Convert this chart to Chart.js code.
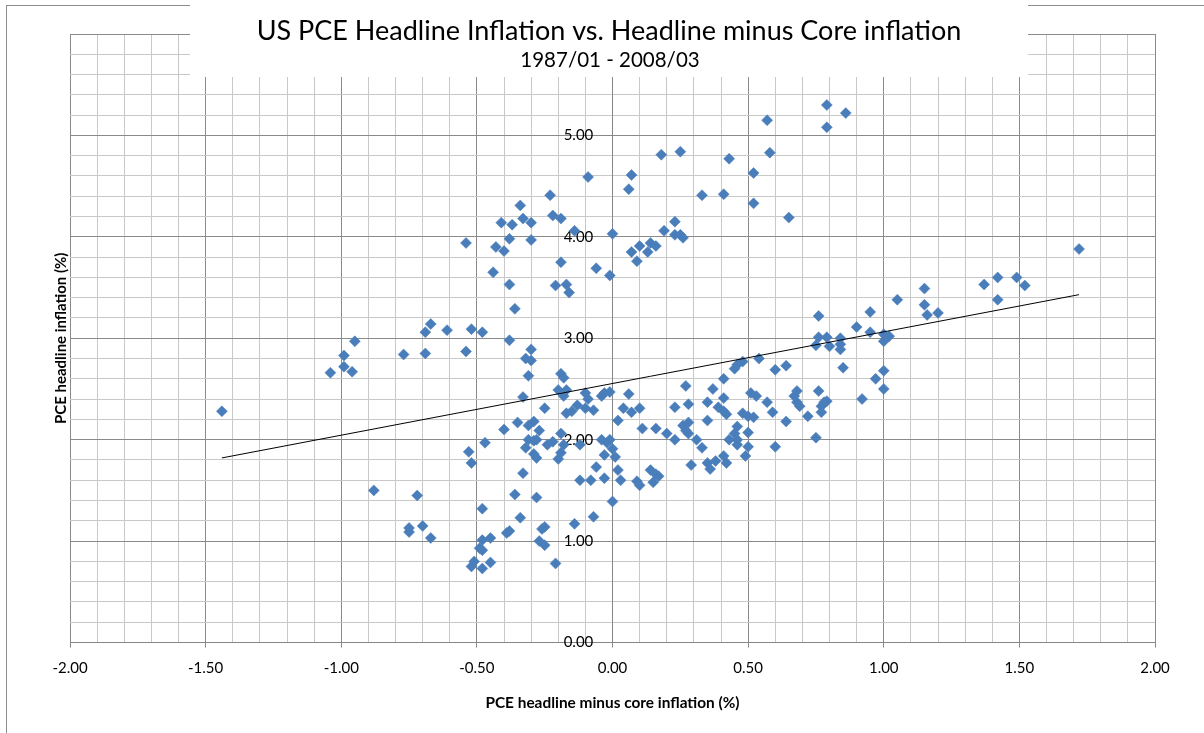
<!DOCTYPE html>
<html>
<head>
<meta charset="utf-8">
<title>US PCE Headline Inflation vs. Headline minus Core inflation</title>
<script src="https://cdn.jsdelivr.net/npm/chart.js@4.4.1/dist/chart.umd.min.js"></script>
<style>
  html, body { margin: 0; padding: 0; background: #fff; overflow: hidden; }
  #wrap { position: relative; width: 1204px; height: 733px; }
</style>
</head>
<body>
<div id="wrap"><canvas id="pceChart" width="1204" height="733"></canvas></div>
<script>
// monthly observations 1987/01 - 2008/03, read off the original chart
// x: PCE headline minus core inflation (%), y: PCE headline inflation (%)
var spread = [
  -1.44, -1.04, -0.99, -0.99, -0.96, -0.95, -0.88, -0.77, -0.75, -0.75, -0.72, -0.70, -0.69, -0.69, -0.67, -0.67, -0.61,
  -0.54, -0.52, -0.54, -0.48, -0.43, -0.44, -0.47, -0.53, -0.52, -0.48, -0.48, -0.45, -0.49, -0.48, -0.51, -0.52, -0.48, -0.45, -0.41, -0.40, -0.40,
  -0.37, -0.38, -0.34, -0.33, -0.30, -0.30, -0.38, -0.36, -0.38, -0.30, -0.32, -0.30, -0.31, -0.33, -0.35, -0.31, -0.29, -0.27, -0.25,
  -0.31, -0.29, -0.28, -0.32, -0.28, -0.29, -0.33, -0.36, -0.28, -0.34, -0.38, -0.39, -0.26, -0.25, -0.27, -0.25,
  -0.23, -0.22, -0.19, -0.14, -0.09, 0.00, -0.21, -0.17, -0.16, -0.19, -0.06, -0.01, -0.19, -0.18, -0.20, -0.18, -0.17,
  -0.10, -0.09, -0.04, -0.03, -0.01, -0.13, -0.10, -0.07, -0.17, -0.15, -0.19, -0.24, -0.22, -0.18, -0.19, -0.20, -0.12,
  -0.04, -0.01, -0.02, -0.03, -0.06, -0.03, -0.08, -0.12, -0.07, -0.14, -0.21,
  0.00, 0.01, 0.02, 0.03, 0.00, 0.02, 0.06, 0.04, 0.07, 0.10, 0.11, 0.16, 0.20, 0.23, 0.23, 0.27, 0.28, 0.26, 0.28, 0.27, 0.28,
  0.09, 0.10, 0.14, 0.16, 0.17, 0.15, 0.29, 0.06, 0.07, 0.18, 0.25, 0.23, 0.19, 0.23, 0.25, 0.26, 0.10, 0.07, 0.14, 0.16, 0.13, 0.09,
  0.33, 0.41, 0.43, 0.52, 0.52, 0.31, 0.33, 0.35, 0.37, 0.41, 0.41, 0.39, 0.41, 0.42, 0.35, 0.45, 0.46, 0.48, 0.54,
  0.51, 0.53, 0.48, 0.50, 0.52, 0.46, 0.45, 0.46, 0.46, 0.50, 0.50, 0.49, 0.43, 0.35, 0.36, 0.38, 0.41, 0.42,
  0.79, 0.86, 0.79, 0.57, 0.58, 0.65, 0.57, 0.59, 0.64, 0.60, 0.64, 0.68, 0.67, 0.68, 0.69, 0.72, 0.76, 0.77, 0.78, 0.79,
  0.77, 0.75, 0.60, 0.76, 0.76, 0.79, 0.84, 0.75, 0.80, 0.84, 0.84, 0.85, 0.90, 0.95, 0.95, 0.92, 0.97, 1.00, 1.00, 1.00,
  1.00, 1.02, 1.05, 1.15, 1.15, 1.16, 1.20, 1.37, 1.42, 1.42, 1.49, 1.52, 1.72
];
var headline = [
  2.28, 2.66, 2.83, 2.72, 2.67, 2.97, 1.50, 2.84, 1.13, 1.09, 1.45, 1.15, 3.06, 2.85, 3.14, 1.03, 3.08,
  3.94, 3.09, 2.87, 3.06, 3.90, 3.65, 1.97, 1.88, 1.77, 1.32, 1.01, 1.03, 0.93, 0.91, 0.80, 0.75, 0.73, 0.79, 4.14, 3.86, 2.10,
  4.12, 3.98, 4.31, 4.18, 4.14, 3.97, 3.53, 3.29, 2.98, 2.89, 2.80, 2.78, 2.63, 2.42, 2.17, 2.14, 2.18, 2.09, 2.31,
  2.00, 1.99, 2.00, 1.92, 1.82, 1.86, 1.67, 1.46, 1.43, 1.23, 1.10, 1.08, 1.12, 1.14, 1.00, 0.96,
  4.41, 4.21, 4.18, 4.06, 4.59, 4.03, 3.52, 3.53, 3.45, 3.75, 3.69, 3.62, 2.65, 2.61, 2.49, 2.43, 2.49,
  2.46, 2.40, 2.43, 2.46, 2.47, 2.34, 2.31, 2.29, 2.26, 2.28, 2.06, 1.95, 1.98, 1.95, 1.87, 1.81, 1.95,
  2.00, 2.00, 1.97, 1.85, 1.73, 1.62, 1.60, 1.60, 1.24, 1.17, 0.78,
  1.91, 1.83, 1.70, 1.60, 1.39, 2.19, 2.45, 2.31, 2.27, 2.31, 2.11, 2.11, 2.06, 2.32, 2.00, 2.53, 2.35, 2.14, 2.17, 2.09, 2.06,
  1.59, 1.55, 1.70, 1.66, 1.64, 1.58, 1.75, 4.47, 4.61, 4.81, 4.84, 4.15, 4.06, 4.02, 4.02, 3.99, 3.91, 3.85, 3.94, 3.91, 3.85, 3.76,
  4.41, 4.42, 4.77, 4.63, 4.33, 2.00, 1.92, 2.37, 2.50, 2.60, 2.41, 2.32, 2.28, 2.25, 2.19, 2.70, 2.74, 2.77, 2.80,
  2.46, 2.43, 2.26, 2.23, 2.22, 2.13, 2.06, 2.00, 1.95, 2.07, 1.93, 1.84, 2.00, 1.77, 1.71, 1.79, 1.84, 1.77,
  5.30, 5.22, 5.08, 5.15, 4.83, 4.19, 2.37, 2.27, 2.18, 2.69, 2.73, 2.48, 2.43, 2.37, 2.33, 2.23, 2.48, 2.33, 2.37, 2.38,
  2.27, 2.02, 1.93, 3.22, 3.01, 3.01, 3.00, 2.93, 2.92, 2.94, 2.89, 2.71, 3.11, 3.26, 3.06, 2.40, 2.60, 2.68, 2.50, 2.97,
  3.04, 3.02, 3.38, 3.49, 3.33, 3.23, 3.25, 3.53, 3.60, 3.38, 3.60, 3.52, 3.88
];
// linear trend line end points
var trendX = [-1.44, 1.72];
var trendY = [1.82, 3.43];

var chartTitle = 'US PCE Headline Inflation vs. Headline minus Core inflation';
var chartSubtitle = '1987/01 - 2008/03';
var xTitle = 'PCE headline minus core inflation (%)';
var yTitle = 'PCE headline inflation (%)';

var majorGrid = '#8a8a8a';
var minorGrid = '#c8c8c8';
var axisGray = '#868686';
var markerBlue = '#4a7ebb';

function isMajorX(v) { return Math.round(v * 10) % 5 === 0; }
function isMajorY(v) { return Math.round(v * 10) % 10 === 0; }

var scatterPoints = [];
for (var i = 0; i < spread.length; i++) {
    scatterPoints.push({x: spread[i], y: headline[i]});
}
var trendPoints = [];
for (var j = 0; j < trendX.length; j++) {
    trendPoints.push({x: trendX[j], y: trendY[j]});
}

// outer frame + title box sitting on top of the plot area, like the Excel original
var chartFrame = {
    id: 'chartFrame',
    beforeDraw: function (chart) {
        var ctx = chart.ctx;
        ctx.save();
        ctx.strokeStyle = '#8c8c8c';
        ctx.lineWidth = 1;
        ctx.strokeRect(6.5, 5.5, 1400, 1000);
        ctx.restore();
    },
    afterDraw: function (chart) {
        var ctx = chart.ctx;
        ctx.save();
        ctx.fillStyle = '#fff';
        ctx.fillRect(190, 0, 838, 77);
        ctx.fillStyle = '#000';
        ctx.textAlign = 'center';
        ctx.textBaseline = 'alphabetic';
        ctx.font = '27px Lato';
        ctx.fillText(chartTitle, 609, 40);
        ctx.font = '20.5px Lato';
        ctx.fillText(chartSubtitle, 610, 67);
        ctx.restore();
    }
};

Chart.defaults.font.family = 'Lato';
Chart.defaults.color = '#000';

var ctx = document.getElementById('pceChart');
var pceChart = new Chart(ctx, {
    type: 'scatter',
    data: {
        datasets: [{
            label: 'Trend',
            data: trendPoints,
            showLine: true,
            borderColor: '#000',
            borderWidth: 1,
            pointRadius: 0,
            fill: false,
            xAxisID: 'x',
            yAxisID: 'y'
        }, {
            label: 'PCE',
            data: scatterPoints,
            pointStyle: 'rectRot',
            pointRadius: 5.5,
            pointBackgroundColor: markerBlue,
            pointBorderColor: markerBlue,
            pointBorderWidth: 0.5,
            xAxisID: 'x',
            yAxisID: 'y'
        }]
    },
    options: {
        responsive: false,
        animation: false,
        layout: {
            padding: {left: 0, right: 49, top: 34, bottom: 15}
        },
        plugins: {
            legend: {display: false},
            tooltip: {enabled: false},
            title: {display: false}
        },
        scales: {
            x: {
                type: 'linear',
                position: 'bottom',
                min: -2,
                max: 2,
                ticks: {
                    stepSize: 0.1,
                    autoSkip: false,
                    maxRotation: 0,
                    padding: 12,
                    color: '#000',
                    font: {size: 15},
                    callback: function (v) { return isMajorX(v) ? v.toFixed(2) : ''; }
                },
                grid: {
                    color: function (c) { return isMajorX(c.tick.value) ? majorGrid : minorGrid; },
                    tickColor: function (c) { return isMajorX(c.tick.value) ? axisGray : 'rgba(0,0,0,0)'; },
                    tickLength: 5,
                    lineWidth: 1
                },
                border: {color: axisGray},
                title: {
                    display: true,
                    text: xTitle,
                    color: '#000',
                    font: {size: 15.4, weight: 'bold'},
                    padding: {top: 4, bottom: 6}
                }
            },
            y: {
                type: 'linear',
                position: {x: 0},
                min: 0,
                max: 6,
                ticks: {
                    stepSize: 0.2,
                    autoSkip: false,
                    color: '#000',
                    font: {size: 15},
                    callback: function (v) { return isMajorY(v) ? v.toFixed(2) + '     ' : ''; }
                },
                grid: {
                    color: function (c) { return isMajorY(c.tick.value) ? majorGrid : minorGrid; },
                    tickColor: function (c) { return isMajorY(c.tick.value) ? axisGray : 'rgba(0,0,0,0)'; },
                    tickLength: 5,
                    lineWidth: 1
                },
                border: {color: axisGray}
            },
            yTitle: {
                type: 'linear',
                position: 'left',
                min: 0,
                max: 6,
                ticks: {display: false},
                grid: {display: false, drawTicks: false},
                border: {display: false},
                title: {
                    display: true,
                    text: yTitle,
                    color: '#000',
                    font: {size: 15, weight: 'bold'},
                    padding: {top: 52, bottom: 0}
                }
            }
        }
    },
    plugins: [chartFrame]
});
</script>
</body>
</html>
